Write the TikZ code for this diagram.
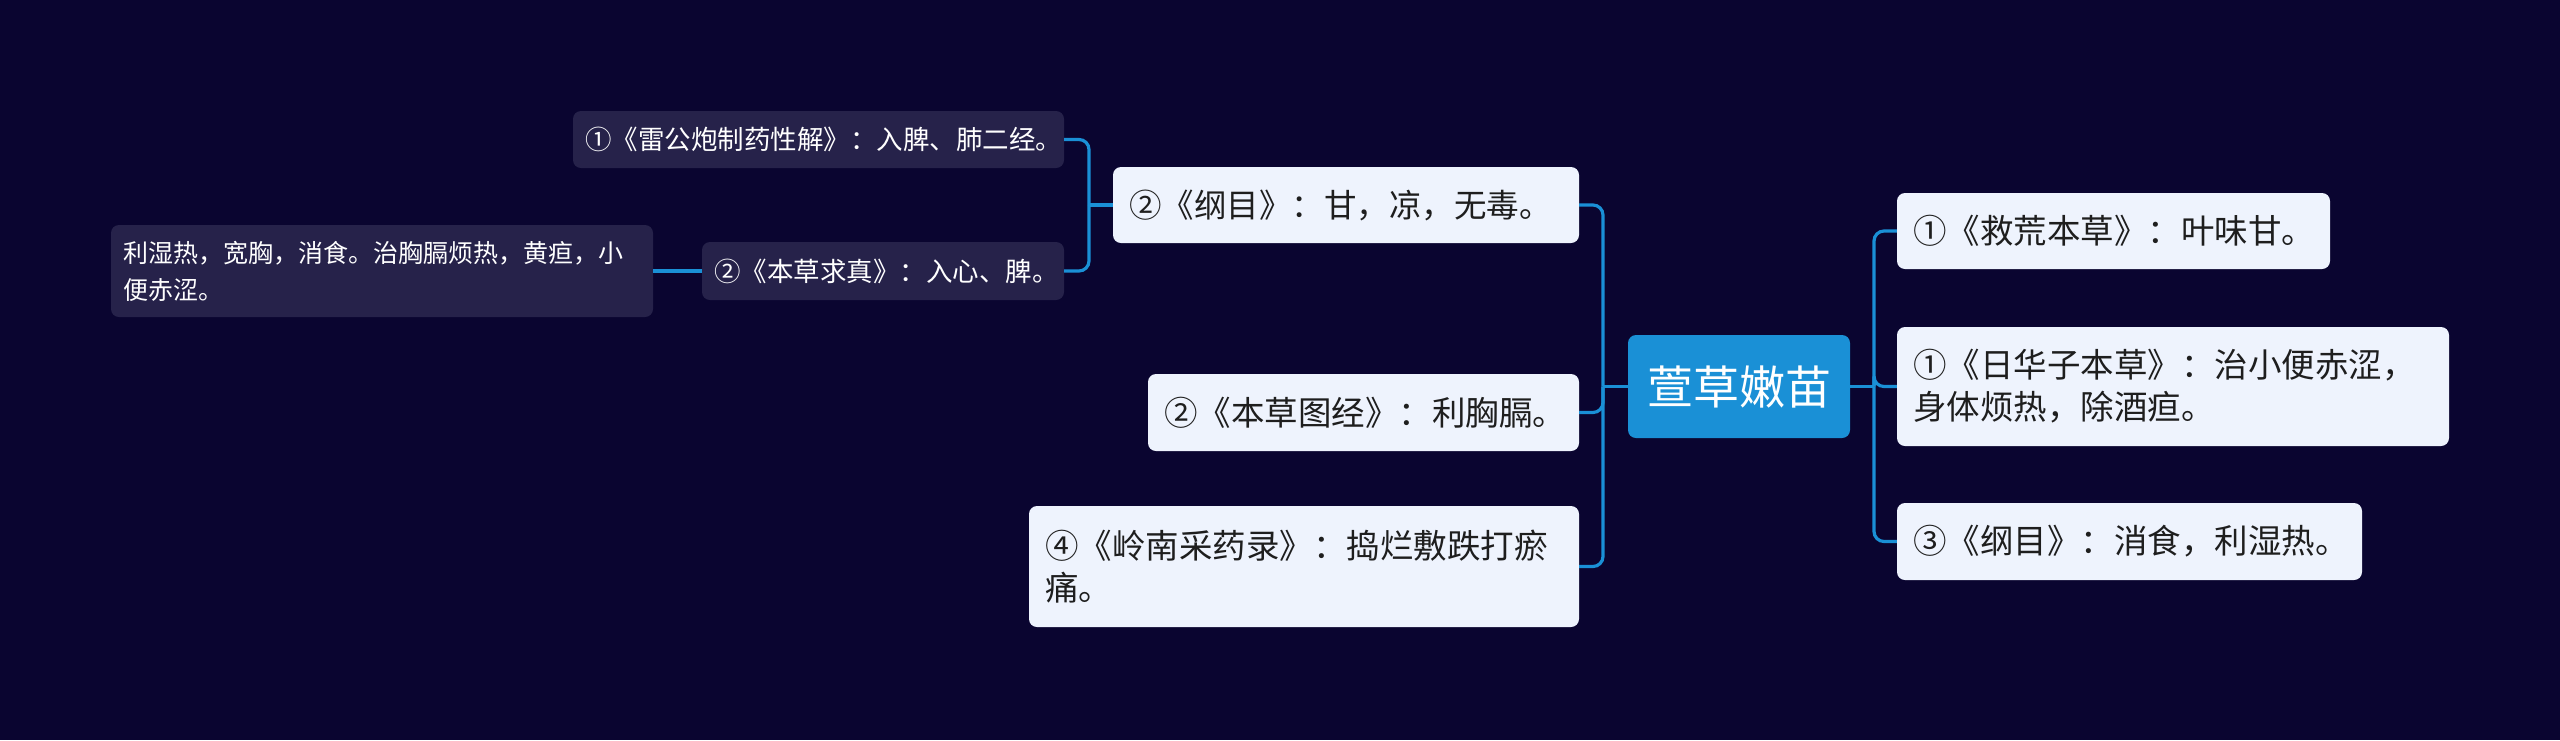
\documentclass[tikz,border=0pt]{standalone}
\usepackage{fontspec}
\setmainfont{Noto Sans CJK SC}
\usetikzlibrary{positioning, calc}
\definecolor{cbg}{HTML}{0A0530}
\definecolor{cblue}{HTML}{1A90D6}
\definecolor{clight}{HTML}{EEF3FD}
\definecolor{cdark}{HTML}{26224A}
\definecolor{ctext}{HTML}{1E1E1E}
\tikzset{
  every picture/.style={x=1pt, y=-1pt},
  hub/.style={fill=cblue, text=white, rounded corners=8pt, align=center, inner sep=0pt,
    minimum width=222pt, minimum height=103pt, font=\fontsize{46}{54}\selectfont},
  leaf/.style={fill=clight, text=ctext, rounded corners=8pt, align=left, inner xsep=16pt, inner ysep=0pt,
    text width=#1-32pt, font=\fontsize{33.5}{42}\selectfont},
  sub/.style={fill=cdark, text=white, rounded corners=8pt, align=left, inner xsep=12pt, inner ysep=0pt,
    text width=#1-24pt, font=\fontsize{26.5}{37}\selectfont},
  link/.style={draw=cblue, line width=3.2pt, rounded corners=10pt},
}
\begin{document}
\begin{tikzpicture}
  \fill[cbg] (0,0) rectangle (2560,740);
  \useasboundingbox (0,0) rectangle (2560,740);
  % centre
  \node[hub] (hub) at (1739,386.5) {萱草嫩苗};
  % right branch
  \node[leaf=433pt, minimum height=76pt]  (jiuhuang) at (2113.5,231)   {①《救荒本草》：叶味甘。};
  \node[leaf=552pt, minimum height=119pt] (rihuazi)  at (2173,386.5)   {①《日华子本草》：治小便赤涩，\\身体烦热，除酒疸。};
  \node[leaf=465pt, minimum height=77pt]  (gangmuR)  at (2129.5,541.5) {③《纲目》：消食，利湿热。};
  % left branch
  \node[leaf=466pt, minimum height=76pt, font=\fontsize{32.5}{42}\selectfont] (gangmuL) at (1346,205) {②《纲目》：甘，凉，无毒。};
  \node[leaf=431pt, minimum height=77pt]  (tujing)   at (1363.5,412.5) {②《本草图经》：利胸膈。};
  \node[leaf=550pt, minimum height=121pt] (lingnan)  at (1304,566.5)   {④《岭南采药录》：捣烂敷跌打瘀\\痛。};
  % second level
  \node[sub=491pt, minimum height=57pt] (leigong) at (818.5,139.5) {①《雷公炮制药性解》：入脾、肺二经。};
  \node[sub=362pt, minimum height=58pt] (qiuzhen) at (883,271)     {②《本草求真》：入心、脾。};
  \node[sub=542pt, minimum height=92pt, font=\fontsize{25}{37}\selectfont] (lishi) at (382,271) {利湿热，宽胸，消食。治胸膈烦热，黄疸，小\\便赤涩。};
  % connectors
  \coordinate (rtrunk) at (1874,386.5);
  \coordinate (ltrunk) at (1603,386.5);
  \coordinate (gtrunk) at (1089,205);
  \draw[link] (hub.east) -- (rtrunk);
  \foreach \n in {jiuhuang,rihuazi,gangmuR} \draw[link] (rtrunk) |- (\n.west);
  \draw[link] (hub.west) -- (ltrunk);
  \foreach \n in {gangmuL,tujing,lingnan} \draw[link] (ltrunk) |- (\n.east);
  \draw[link] (gangmuL.west) -- (gtrunk);
  \foreach \n in {leigong,qiuzhen} \draw[link] (gtrunk) |- (\n.east);
  \draw[link] (qiuzhen.west) -- (lishi.east);
\end{tikzpicture}
\end{document}
